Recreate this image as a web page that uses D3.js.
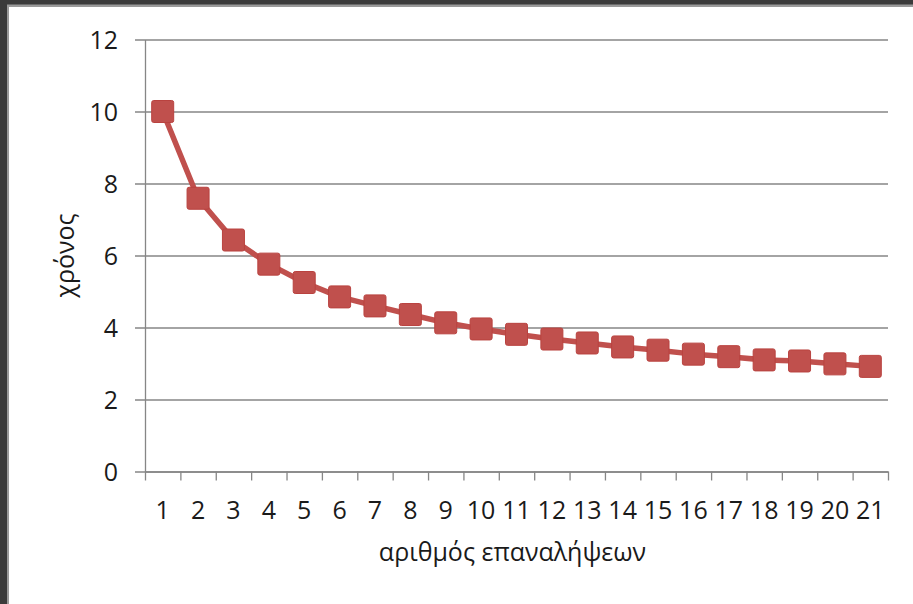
<!DOCTYPE html>
<html>
<head>
<meta charset="utf-8">
<script src="https://cdn.jsdelivr.net/npm/d3@7"></script>
<style>
  body { margin: 0; background: #fff; }
  svg text { font-family: "Open Sans", sans-serif; fill: #1a1a1a; }
</style>
</head>
<body>
<div id="chart"></div>
<script>
// data
var categories = ["1","2","3","4","5","6","7","8","9","10","11","12","13","14","15","16","17","18","19","20","21"];
var times = [10.0, 7.59, 6.43, 5.76, 5.25, 4.85, 4.60, 4.36, 4.13, 3.96, 3.81, 3.68, 3.57, 3.46, 3.37, 3.26, 3.19, 3.10, 3.07, 2.99, 2.92];
var yTicks = [0, 2, 4, 6, 8, 10, 12];
var xTitle = "αριθμός επαναλήψεων";
var yTitle = "χρόνος";

var W = 913, H = 604;
var plotLeft = 145, plotRight = 888, plotTop = 39.5, plotBottom = 471.5;
var red = "#c0504d";

var svg = d3.select("#chart").append("svg")
    .attr("width", W)
    .attr("height", H);

// window frame (dark edge top / left)
svg.append("rect").attr("x", 0).attr("y", 0).attr("width", W).attr("height", 7).attr("fill", "#9a9a9a");
svg.append("rect").attr("x", 0).attr("y", 0).attr("width", 9).attr("height", H).attr("fill", "#9a9a9a");
svg.append("rect").attr("x", 0).attr("y", 0).attr("width", W).attr("height", 4.5).attr("fill", "#3b3b3b");
svg.append("rect").attr("x", 0).attr("y", 0).attr("width", 7).attr("height", H).attr("fill", "#3b3b3b");

var x = d3.scaleBand().domain(categories).range([plotLeft, plotRight]).padding(0);
var xb = d3.scaleLinear().domain([0, categories.length]).range([plotLeft, plotRight]);
var y = d3.scaleLinear().domain([0, 12]).range([plotBottom, plotTop]);

// y axis + gridlines
var yAxis = svg.append("g")
    .attr("transform", "translate(" + plotLeft + ",0)")
    .call(d3.axisLeft(y).tickValues(yTicks).tickSizeInner(-(plotRight - plotLeft)).tickSizeOuter(0).tickPadding(27));
yAxis.select(".domain").attr("stroke", "#868686").attr("stroke-width", 1.3);
yAxis.selectAll(".tick line").attr("x1", -10).attr("stroke", "#868686").attr("stroke-width", 1.3);
yAxis.selectAll(".tick text").style("font-size", "25px").attr("dy", "0.35em");

// x axis ticks at category boundaries
var xTickAxis = svg.append("g")
    .attr("transform", "translate(0," + plotBottom + ")")
    .call(d3.axisBottom(xb).tickValues(d3.range(0, categories.length + 1)).tickFormat("").tickSizeInner(9).tickSizeOuter(0));
xTickAxis.select(".domain").attr("stroke", "#868686").attr("stroke-width", 1.3);
xTickAxis.selectAll(".tick line").attr("stroke", "#868686").attr("stroke-width", 1.3);

// x labels at category centers
var xAxis = svg.append("g")
    .attr("transform", "translate(0," + plotBottom + ")")
    .call(d3.axisBottom(x).tickSize(0).tickPadding(47));
xAxis.select(".domain").remove();
xAxis.selectAll(".tick text").style("font-size", "25px").attr("dy", "0");

// titles
svg.append("text")
    .attr("x", (plotLeft + plotRight) / 2 - 4)
    .attr("y", 561)
    .attr("text-anchor", "middle")
    .style("font-size", "25px")
    .text(xTitle);

svg.append("text")
    .attr("transform", "translate(74," + (plotTop + plotBottom) / 2 + ") rotate(-90)")
    .attr("text-anchor", "middle")
    .style("font-size", "25px")
    .text(yTitle);

// series
var line = d3.line()
    .x(function(d, i) { return x(categories[i]) + x.bandwidth() / 2; })
    .y(function(d) { return y(d); });

svg.append("path")
    .datum(times)
    .attr("d", line)
    .attr("fill", "none")
    .attr("stroke", red)
    .attr("stroke-width", 5.5)
    .attr("stroke-linejoin", "round");

var ms = 22;
svg.selectAll(".marker")
    .data(times)
    .enter()
    .append("rect")
    .attr("class", "marker")
    .attr("x", function(d, i) { return x(categories[i]) + x.bandwidth() / 2 - ms / 2; })
    .attr("y", function(d) { return y(d) - ms / 2; })
    .attr("width", ms)
    .attr("height", ms)
    .attr("rx", 2)
    .attr("fill", red)
    .attr("stroke", "#b9423f")
    .attr("stroke-width", 1);
</script>
</body>
</html>
